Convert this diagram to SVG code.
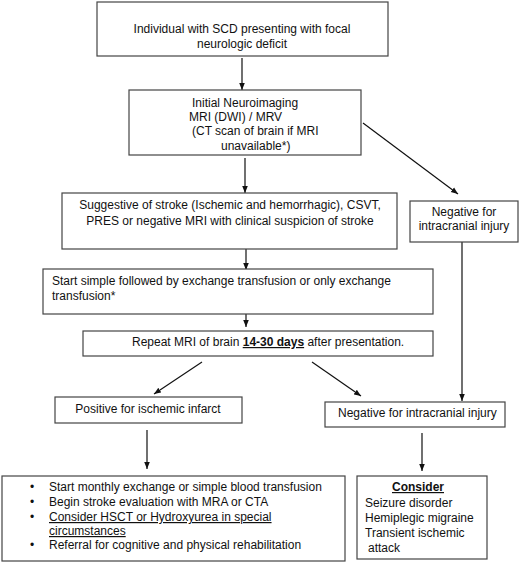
<svg xmlns="http://www.w3.org/2000/svg" width="520" height="562" viewBox="0 0 520 562">
<style>
.box{fill:#fff;stroke:#444;stroke-width:1.2}
text{font-family:"Liberation Sans",Arial,sans-serif;font-size:12px;fill:#111}
.c{text-anchor:middle}
.con{stroke:#111;stroke-width:1.2;fill:none}
.b{font-weight:bold;text-decoration:underline}
.u{text-decoration:underline}
</style>
<defs>
<marker id="ah" markerUnits="userSpaceOnUse" markerWidth="7" markerHeight="7" viewBox="0 0 10 10" refX="10" refY="5" orient="auto">
<path d="M0,1 L10,5 L0,9 Z" fill="#111"/>
</marker>
</defs>
<rect width="520" height="562" fill="#fff"/>
<g id="connectors">
<line class="con" x1="242" y1="58" x2="242" y2="90" marker-end="url(#ah)"/>
<line class="con" x1="245" y1="158" x2="245" y2="193" marker-end="url(#ah)"/>
<line class="con" x1="363" y1="123" x2="458" y2="194" marker-end="url(#ah)"/>
<line class="con" x1="246" y1="249" x2="246" y2="270" marker-end="url(#ah)"/>
<line class="con" x1="246" y1="294" x2="246" y2="327" marker-end="url(#ah)"/>
<line class="con" x1="462" y1="242" x2="462" y2="401" marker-end="url(#ah)"/>
<line class="con" x1="202" y1="362" x2="154" y2="394" marker-end="url(#ah)"/>
<line class="con" x1="312" y1="362" x2="361" y2="396" marker-end="url(#ah)"/>
<line class="con" x1="147" y1="430" x2="147" y2="469" marker-end="url(#ah)"/>
<line class="con" x1="422" y1="433" x2="422" y2="471" marker-end="url(#ah)"/>
</g>
<g id="n1">
<rect class="box" x="97" y="2" width="291" height="54"/>
<text class="c" x="242" y="33">Individual with SCD presenting with focal</text>
<text class="c" x="242" y="48">neurologic deficit</text>
</g>
<g id="n2">
<rect class="box" x="129" y="90" width="232" height="65"/>
<text x="192" y="107">Initial Neuroimaging</text>
<text x="189" y="121">MRI (DWI) / MRV</text>
<text x="192" y="135">(CT scan of brain if MRI</text>
<text x="221" y="150">unavailable*)</text>
</g>
<g id="n3">
<rect class="box" x="62" y="193" width="335" height="56"/>
<text class="c" x="230" y="209">Suggestive of stroke (Ischemic and hemorrhagic), CSVT,</text>
<text class="c" x="230" y="225">PRES or negative MRI with clinical suspicion of stroke</text>
</g>
<g id="n4">
<rect class="box" x="410" y="201" width="108" height="41"/>
<text class="c" x="464" y="216">Negative for</text>
<text class="c" x="464" y="230">intracranial injury</text>
</g>
<g id="n5">
<rect class="box" x="43" y="269" width="390" height="45"/>
<text x="52" y="285">Start simple followed by exchange transfusion or only exchange</text>
<text x="52" y="300">transfusion*</text>
</g>
<g id="n6">
<rect class="box" x="83" y="331" width="350" height="25"/>
<text x="132" y="346">Repeat MRI of brain <tspan class="b">14-30 days</tspan> after presentation.</text>
</g>
<g id="n7">
<rect class="box" x="55" y="397" width="187" height="26"/>
<text class="c" x="148" y="413">Positive for ischemic infarct</text>
</g>
<g id="n8">
<rect class="box" x="325" y="402" width="180" height="25"/>
<text x="338" y="417">Negative for intracranial injury</text>
</g>
<g id="n9">
<rect class="box" x="2" y="476" width="343" height="85"/>
<text x="30" y="491">•</text>
<text x="49" y="491">Start monthly exchange or simple blood transfusion</text>
<text x="30" y="506">•</text>
<text x="49" y="506">Begin stroke evaluation with MRA or CTA</text>
<text x="30" y="521">•</text>
<text class="u" x="49" y="521">Consider HSCT or Hydroxyurea in special</text>
<text class="u" x="49" y="535">circumstances</text>
<text x="30" y="549">•</text>
<text x="49" y="549">Referral for cognitive and physical rehabilitation</text>
</g>
<g id="n10">
<rect class="box" x="357" y="476" width="130" height="83"/>
<text class="c b" x="418" y="491">Consider</text>
<text x="365" y="507">Seizure disorder</text>
<text x="365" y="522">Hemiplegic migraine</text>
<text x="365" y="537">Transient ischemic</text>
<text x="368" y="552">attack</text>
</g>
</svg>
